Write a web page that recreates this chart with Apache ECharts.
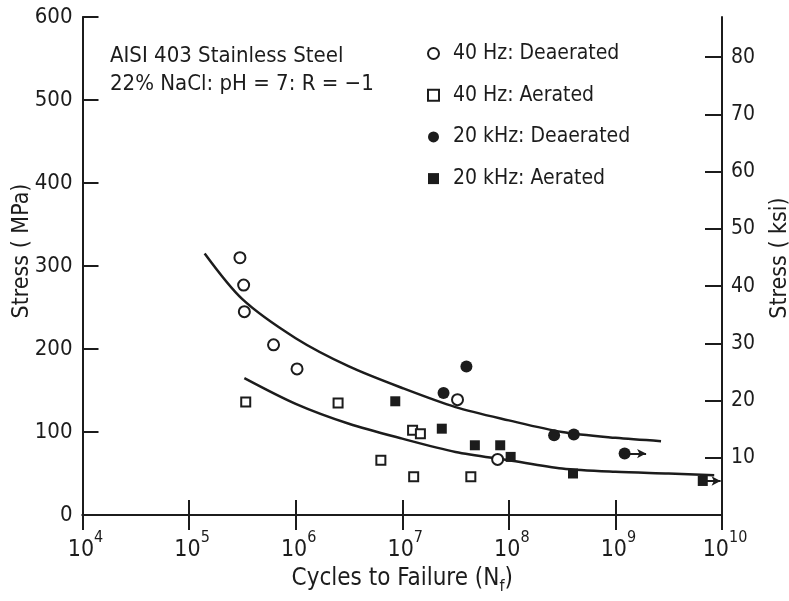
<!DOCTYPE html>
<html>
<head>
<meta charset="utf-8">
<script src="https://cdn.jsdelivr.net/npm/echarts@6/dist/echarts.min.js"></script>
<style>
  html, body { margin: 0; padding: 0; background: #fff; }
  #chart { width: 789px; height: 601px; }
</style>
</head>
<body>
<div id="chart"></div>
<script>
// S-N data, AISI 403 stainless steel in 22% NaCl (cycles, MPa)
const deaerated40Hz = [[3.0e5, 310], [3.25e5, 277], [3.3e5, 245], [6.2e5, 205], [1.03e6, 176], [3.3e7, 139], [7.85e7, 67]];
const aerated40Hz = [[3.4e5, 136], [2.5e6, 135], [6.3e6, 66], [1.25e7, 102], [1.48e7, 98], [1.28e7, 46], [4.4e7, 46]];
const deaerated20kHz = [[2.44e7, 147], [4.0e7, 179], [2.66e8, 96], [4.07e8, 97], [1.22e9, 74]];
const aerated20kHz = [[8.6e6, 137], [2.35e7, 104], [4.8e7, 84], [8.3e7, 84], [1.04e8, 70], [4.0e8, 50], [6.6e9, 41]];

// run-outs (specimens that did not fail): start cycles, arrow end cycles, stress
const runoutDeaerated20kHz = [1.22e9, 1.94e9, 74];
const runoutAerated20kHz = [6.6e9, 9.7e9, 41];

// scatter bands drawn through the data
const upperBand = [[1.40e5, 315], [3.16e5, 260], [1.0e6, 213], [3.16e6, 179], [1.0e7, 153], [3.16e7, 130], [1.0e8, 114], [3.16e8, 100], [1.0e9, 93], [2.68e9, 89]];
const lowerBand = [[3.30e5, 165], [1.0e6, 134], [3.16e6, 110], [1.0e7, 92], [3.16e7, 76], [1.0e8, 66], [3.16e8, 56], [1.0e9, 52], [3.16e9, 50], [8.45e9, 48]];

const seriesNames = ['40 Hz: Deaerated', '40 Hz: Aerated', '20 kHz: Deaerated', '20 kHz: Aerated'];
const MPA_PER_KSI = 6.894757;

const FONT = '"Liberation Sans Narrow", "DejaVu Sans Condensed", "Liberation Sans", sans-serif';
const INK = '#1c1c1c';

const chart = echarts.init(document.getElementById('chart'), null, { renderer: 'canvas' });

function runoutLine(r) {
  return {
    silent: true,
    symbol: ['none', 'arrow'],
    symbolSize: [7, 9],
    label: { show: false },
    lineStyle: { color: INK, width: 2, type: 'solid' },
    data: [[{ coord: [r[0], r[2]] }, { coord: [r[1], r[2]] }]]
  };
}

const frame = { show: true, lineStyle: { color: INK, width: 2 } };

chart.setOption({
  backgroundColor: '#fff',
  animation: false,
  textStyle: { fontFamily: FONT, color: INK },
  title: {
    text: 'AISI 403 Stainless Steel\n22% NaCl: pH = 7: R = \u22121',
    left: 105, top: 37,
    textStyle: { fontFamily: FONT, fontSize: 22, fontWeight: 'normal', color: INK, lineHeight: 28 }
  },
  legend: {
    data: seriesNames,
    orient: 'vertical',
    left: 422, top: 38,
    itemWidth: 11, itemHeight: 11,
    itemGap: 20.7,
    textStyle: { fontFamily: FONT, fontSize: 21, color: INK, lineHeight: 21, padding: [0, 0, 0, 9] }
  },
  grid: { left: 82.5, right: 67, top: 17, bottom: 86, containLabel: false, outerBoundsMode: 'none' },
  xAxis: [
    {
      type: 'log', logBase: 10, min: 1e4, max: 1e10, position: 'bottom',
      name: '{t|Cycles to Failure (N}{sub|f}{t|)}',
      nameLocation: 'middle', nameGap: 52, nameMoveOverlap: false,
      nameTextStyle: {
        rich: {
          t: { fontFamily: FONT, fontSize: 24, color: INK, lineHeight: 28, verticalAlign: 'top' },
          sub: { fontFamily: FONT, fontSize: 16, color: INK, lineHeight: 28, verticalAlign: 'bottom' }
        }
      },
      axisLine: frame,
      axisTick: { show: true, inside: true, length: 15, lineStyle: { color: INK, width: 2 } },
      splitLine: { show: false },
      axisLabel: {
        margin: 24,
        formatter: v => '{b|10}{s|' + Math.round(Math.log10(v)) + '}',
        rich: {
          b: { fontFamily: FONT, fontSize: 23, color: INK, lineHeight: 23, verticalAlign: 'bottom', padding: [0, 0, 0, 6] },
          s: { fontFamily: FONT, fontSize: 16, color: INK, lineHeight: 16, verticalAlign: 'bottom', padding: [0, 0, 16, 0] }
        }
      }
    },
    {
      type: 'log', logBase: 10, min: 1e4, max: 1e10, position: 'top',
      axisLine: frame,
      axisTick: { show: true, inside: true, length: 15, lineStyle: { color: INK, width: 2 } },
      axisLabel: { show: false },
      splitLine: { show: false }
    }
  ],
  yAxis: [
    {
      type: 'value', min: 0, max: 600, interval: 100, position: 'left',
      name: 'Stress ( MPa)', nameLocation: 'middle', nameGap: 49, nameRotate: 90, nameMoveOverlap: false,
      nameTextStyle: { fontFamily: FONT, fontSize: 23, color: INK, padding: [0, 0, 0, 30] },
      axisLine: frame,
      axisTick: { show: true, inside: true, length: 16, lineStyle: { color: INK, width: 2 } },
      splitLine: { show: false },
      axisLabel: { margin: 10, fontFamily: FONT, fontSize: 22, color: INK }
    },
    {
      type: 'value', min: 0, max: 600 / MPA_PER_KSI, interval: 10, position: 'right',
      name: 'Stress ( ksi)', nameLocation: 'middle', nameGap: 47, nameRotate: 90, nameMoveOverlap: false,
      nameTextStyle: { fontFamily: FONT, fontSize: 23, color: INK, padding: [0, 0, 0, 16] },
      axisLine: frame,
      axisTick: { show: true, inside: true, length: 17, lineStyle: { color: INK, width: 2 } },
      splitLine: { show: false },
      axisLabel: {
        margin: 9, fontFamily: FONT, fontSize: 21, color: INK,
        showMaxLabel: false,
        formatter: v => (v > 0 && v <= 80 && Math.abs(v % 10) < 1e-6) ? String(v) : ''
      }
    }
  ],
  series: [
    {
      name: 'upper band', type: 'line', data: upperBand, smooth: 0.3,
      showSymbol: false, silent: true, z: 1,
      lineStyle: { color: INK, width: 2.5 }
    },
    {
      name: 'lower band', type: 'line', data: lowerBand, smooth: 0.3,
      showSymbol: false, silent: true, z: 1,
      lineStyle: { color: INK, width: 2.5 }
    },
    {
      name: seriesNames[0], type: 'scatter', data: deaerated40Hz,
      symbol: 'circle', symbolSize: 11, z: 3,
      itemStyle: { color: '#fff', borderColor: INK, borderWidth: 2, opacity: 1 }
    },
    {
      name: seriesNames[1], type: 'scatter', data: aerated40Hz,
      symbol: 'rect', symbolSize: 9, z: 3,
      itemStyle: { color: '#fff', borderColor: INK, borderWidth: 2, opacity: 1 }
    },
    {
      name: seriesNames[2], type: 'scatter', data: deaerated20kHz,
      symbol: 'circle', symbolSize: 12, z: 2,
      itemStyle: { color: INK, opacity: 1 },
      markLine: runoutLine(runoutDeaerated20kHz)
    },
    {
      name: seriesNames[3], type: 'scatter', data: aerated20kHz,
      symbol: 'rect', symbolSize: 10, z: 2,
      itemStyle: { color: INK, opacity: 1 },
      markLine: runoutLine(runoutAerated20kHz)
    }
  ]
});
</script>
</body>
</html>
